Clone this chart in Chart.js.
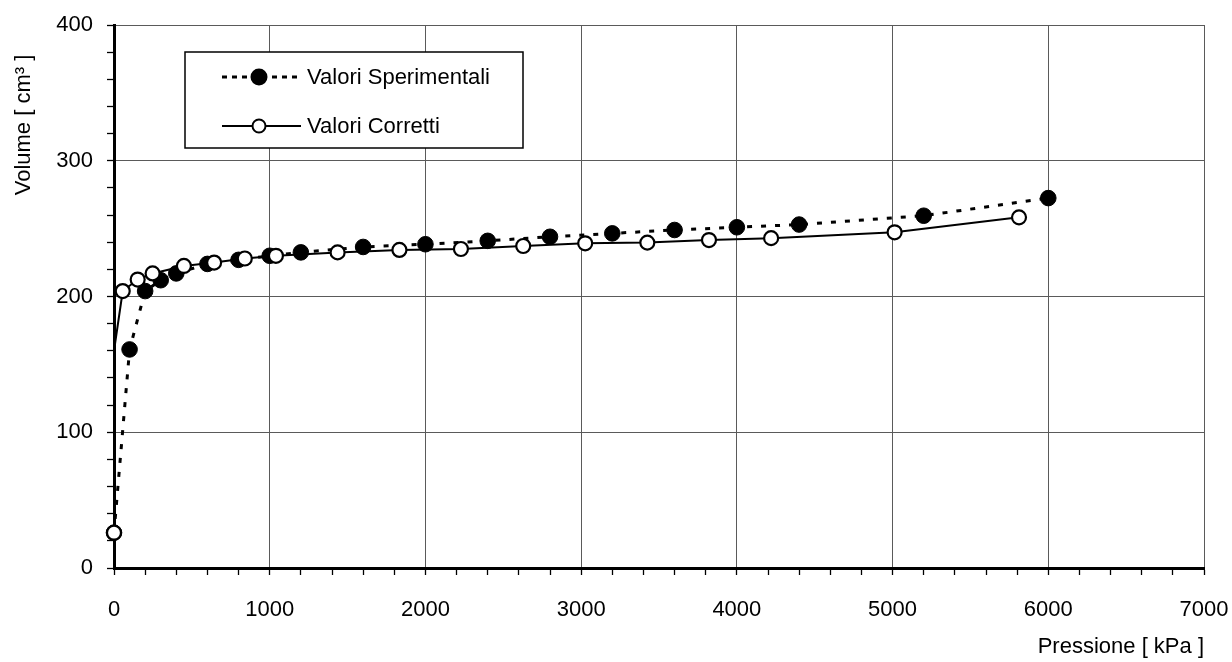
<!DOCTYPE html>
<html>
<head>
<meta charset="utf-8">
<script src="https://cdn.jsdelivr.net/npm/chart.js@4.4.1/dist/chart.umd.min.js"></script>
<style>
  body { margin: 0; background: #fff; }
  #wrap { width: 1232px; height: 662px; }
</style>
</head>
<body>
<div id="wrap"><canvas id="myChart" width="1232" height="662"></canvas></div>
<script>
// data
const sperLabel = 'Valori Sperimentali'
const sperP = [0, 100, 200, 300, 400, 600, 800, 1000, 1200, 1600, 2000, 2400, 2800, 3200, 3600, 4000, 4400, 5200, 6000]
const sperV = [26, 161, 204, 212, 217, 224, 227, 230, 232.5, 236.5, 238.5, 241, 244, 246.5, 249, 251, 253, 259.5, 272.5]

const corrLabel = 'Valori Corretti'
const corrP = [0, 0, 56, 152, 248, 449, 643, 840, 1040, 1436, 1833, 2228, 2628, 3026, 3425, 3821, 4220, 5013, 5812]
const corrV = [26, 160, 204, 212.5, 217, 222.5, 225, 228, 230, 232.5, 234.3, 235, 237.2, 239.2, 239.7, 241.6, 243, 247.3, 258.3]
// second corrected point has no marker in the picture
const corrMarker = [true, false, true, true, true, true, true, true, true, true, true, true, true, true, true, true, true, true, true]

const xTicks = [0, 1000, 2000, 3000, 4000, 5000, 6000, 7000]
const yTicks = [0, 100, 200, 300, 400]
const xTitle = 'Pressione [ kPa ]'
const yTitle = 'Volume [ cm³ ]'

const FONT = "'Liberation Sans', Arial, sans-serif"
const GRID = '#5a5a5a'

function toPoints(xs, ys) {
    const pts = []
    for (let i = 0; i < xs.length; i++) {
        pts.push({x: xs[i], y: ys[i]})
    }
    return pts
}

function drawMarker(ctx, x, y, r, filled) {
    ctx.beginPath()
    ctx.arc(x, y, r, 0, Math.PI * 2)
    ctx.fillStyle = filled ? '#000' : '#fff'
    ctx.fill()
    ctx.lineWidth = 2
    ctx.strokeStyle = '#000'
    ctx.stroke()
}

// legend box and y title drawn by hand
const extras = {
    id: 'extras',
    afterDraw(chart) {
        const ctx = chart.ctx
        const a = chart.chartArea
        ctx.save()

        // legend
        const x0 = a.left + 71, y0 = a.top + 27, w = 338, h = 96
        ctx.fillStyle = '#fff'
        ctx.fillRect(x0, y0, w, h)
        ctx.lineWidth = 1.5
        ctx.strokeStyle = '#000'
        ctx.strokeRect(x0, y0, w, h)

        const rows = [
            {y: y0 + 25, dash: [5, 5], lw: 3, filled: true, r: 7.5, text: sperLabel},
            {y: y0 + 74, dash: [], lw: 2, filled: false, r: 6.5, text: corrLabel}
        ]
        rows.forEach(function(row) {
            ctx.beginPath()
            ctx.setLineDash(row.dash)
            ctx.lineWidth = row.lw
            ctx.strokeStyle = '#000'
            ctx.moveTo(x0 + 37, row.y)
            ctx.lineTo(x0 + 116, row.y)
            ctx.stroke()
            ctx.setLineDash([])
            drawMarker(ctx, x0 + 74, row.y, row.r, row.filled)
            ctx.fillStyle = '#000'
            ctx.font = '22px ' + FONT
            ctx.textAlign = 'left'
            ctx.textBaseline = 'middle'
            ctx.fillText(row.text, x0 + 122, row.y + 1)
        })

        // y axis title
        ctx.translate(24, a.top + 100)
        ctx.rotate(-Math.PI / 2)
        ctx.font = '22px ' + FONT
        ctx.textAlign = 'center'
        ctx.textBaseline = 'middle'
        ctx.fillStyle = '#000'
        ctx.fillText(yTitle, 0, 0)
        ctx.restore()
    }
}

function makeChart() {
    const canvas = document.getElementById('myChart')
    const myChart = new Chart(canvas, {
        type: 'scatter',
        data: {
            datasets: [{
                label: corrLabel,
                data: toPoints(corrP, corrV),
                showLine: true,
                borderColor: '#000',
                borderWidth: 2,
                pointRadius: corrMarker.map(m => m ? 7 : 0),
                pointBackgroundColor: '#fff',
                pointBorderColor: '#000',
                pointBorderWidth: 2.2,
                clip: 12,
                order: 1
            }, {
                label: sperLabel,
                data: toPoints(sperP, sperV),
                showLine: true,
                borderColor: '#000',
                borderWidth: 3,
                borderDash: [5, 9],
                pointRadius: 7.8,
                pointBackgroundColor: '#000',
                pointBorderColor: '#000',
                pointBorderWidth: 1,
                clip: 12,
                order: 2
            }]
        },
        options: {
            responsive: false,
            animation: false,
            layout: { padding: {left: 0, right: 28, top: 25, bottom: 0} },
            plugins: {
                legend: { display: false },
                tooltip: { enabled: false }
            },
            scales: {
                x: {
                    type: 'linear',
                    min: 0,
                    max: 7000,
                    afterFit: s => {
                        s.height = 94
                        s.paddingLeft = 0
                        s.paddingRight = 0
                    },
                    border: { color: '#000', width: 3 },
                    grid: {
                        color: c => xTicks.includes(c.tick.value) ? GRID : 'rgba(0,0,0,0)',
                        tickColor: '#000',
                        tickLength: 7,
                        tickWidth: 1.3,
                        lineWidth: 1
                    },
                    ticks: {
                        stepSize: 200,
                        autoSkip: false,
                        maxRotation: 0,
                        minRotation: 0,
                        padding: 22,
                        color: '#000',
                        font: { family: FONT, size: 22 },
                        callback: v => xTicks.includes(v) ? String(v) : ''
                    },
                    title: {
                        display: true,
                        text: xTitle,
                        align: 'end',
                        color: '#000',
                        font: { family: FONT, size: 22 },
                        padding: {top: 0, bottom: 2}
                    }
                },
                y: {
                    type: 'linear',
                    min: 0,
                    max: 400,
                    afterFit: s => {
                        s.width = 114
                        s.paddingTop = 0
                        s.paddingBottom = 0
                    },
                    border: { color: '#000', width: 3 },
                    grid: {
                        color: c => yTicks.includes(c.tick.value) ? GRID : 'rgba(0,0,0,0)',
                        tickColor: '#000',
                        tickLength: 7,
                        tickWidth: 1.3,
                        lineWidth: 1
                    },
                    ticks: {
                        stepSize: 20,
                        autoSkip: false,
                        padding: 14,
                        color: '#000',
                        font: { family: FONT, size: 22 },
                        callback: v => yTicks.includes(v) ? String(v) : ''
                    }
                }
            }
        },
        plugins: [extras]
    })
}

window.onload = () => {
    Chart.defaults.font.family = FONT
    makeChart()
}
</script>
</body>
</html>
